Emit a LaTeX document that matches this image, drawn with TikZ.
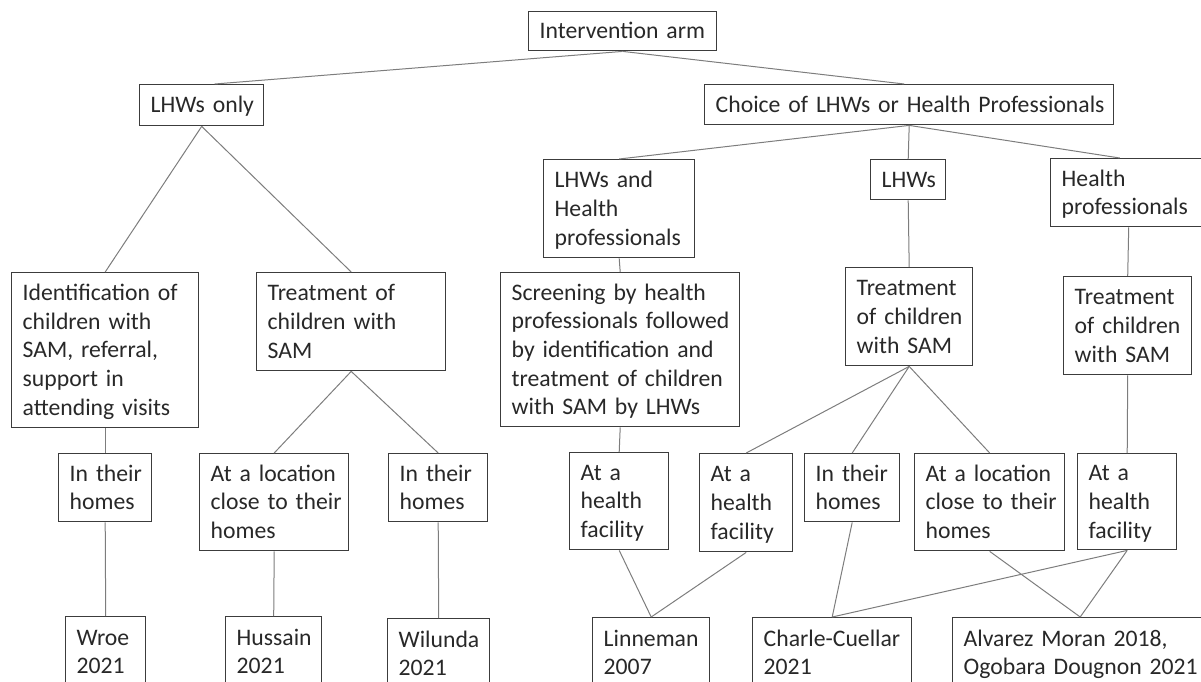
\documentclass[tikz,border=0pt]{standalone}
\usepackage{fontspec}
\setmainfont{Carlito}
\usetikzlibrary{calc}
\definecolor{boxgray}{RGB}{60,60,60}
\definecolor{linkgray}{RGB}{125,125,125}
\definecolor{textgray}{RGB}{40,40,40}
\newcommand\rows[1]{\begin{tabular}{@{}l@{}}\rule{0pt}{24pt}#1\end{tabular}}
\begin{document}
\begin{tikzpicture}[x=1pt,y=-1pt,
  box/.style={draw=boxgray, line width=1.4pt, anchor=north west, align=left,
    inner xsep=11pt, inner ysep=0pt, text=textgray,
    font=\fontsize{23.7pt}{28.6pt}\selectfont},
  wh/.code 2 args={\pgfmathsetmacro\boxtw{#1-22}\tikzset{text width=\boxtw pt, minimum width=#1pt, minimum height=#2pt}},
  link/.style={draw=linkgray, line width=1pt}]
\useasboundingbox (0,0) rectangle (1201,682);
\clip (0,0) rectangle (1201,682);
% level 1
\node[box, wh={188}{39}] (top) at (528,11) {\rows{Intervention arm}};
% level 2
\node[box, wh={124}{41}] (lonly) at (139,84) {\rows{LHWs only}};
\node[box, wh={409}{40}] (choice) at (704,84) {\rows{Choice of LHWs or Health Professionals}};
% level 3
\node[box, wh={151}{98}] (lhp) at (543,159) {\rows{LHWs and\\Health\\professionals}};
\node[box, wh={75}{40}] (lhws) at (870,159) {\rows{LHWs}};
\node[box, wh={156}{68}] (hp) at (1050,158) {\rows{Health\\professionals}};
% level 4
\node[box, wh={187}{155}] (ident) at (11,272) {\rows{Identification of\\children with\\SAM, referral,\\support in\\attending visits}};
\node[box, wh={189}{98}] (treatL) at (256,272) {\rows{Treatment of\\children with\\SAM}};
\node[box, wh={239}{154}] (screen) at (500,272) {\rows{Screening by health\\professionals followed\\by identification and\\treatment of children\\with SAM by LHWs}};
\node[box, wh={127}{98}] (treatM) at (845,267) {\rows{Treatment\\of children\\with SAM}};
\node[box, wh={128}{98}] (treatR) at (1063,276) {\rows{Treatment\\of children\\with SAM}};
% level 5
\node[box, wh={93}{68}] (home1) at (58,453) {\rows{In their\\homes}};
\node[box, wh={149}{97}] (loc1) at (199,453) {\rows{At a location\\close to their\\homes}};
\node[box, wh={99}{68}] (home2) at (388,453) {\rows{In their\\homes}};
\node[box, wh={99}{97}] (fac1) at (569,452) {\rows{At a\\health\\facility}};
\node[box, wh={93}{98}] (fac2) at (699,453) {\rows{At a\\health\\facility}};
\node[box, wh={95}{68}] (home3) at (804,453) {\rows{In their\\homes}};
\node[box, wh={150}{97}] (loc2) at (914,453) {\rows{At a location\\close to their\\homes}};
\node[box, wh={99}{96}] (fac3) at (1077,453) {\rows{At a\\health\\facility}};
% level 6 (studies)
\node[box, wh={80}{70}] (wroe) at (65,616) {\rows{Wroe\\2021}};
\node[box, wh={96}{70}] (hussain) at (225,616) {\rows{Hussain\\2021}};
\node[box, wh={102}{70}] (wilunda) at (387,618) {\rows{Wilunda\\2021}};
\node[box, wh={117}{70}] (linn) at (592,617) {\rows{Linneman\\2007}};
\node[box, wh={159}{70}] (charle) at (752,617) {\rows{Charle-Cuellar\\2021}};
\node[box, wh={255}{70}] (alvarez) at (952,617) {\rows{Alvarez Moran 2018,\\Ogobara Dougnon 2021}};
% connectors
\draw[link] (top.south) -- ($(lonly.north)+(13,0)$);
\draw[link] (top.south) -- ($(choice.north)+(-5,0)$);
\draw[link] (lonly.south) -- (ident.north);
\draw[link] (lonly.south) -- (treatL.north);
\draw[link] (choice.south) -- (lhp.north);
\draw[link] (choice.south) -- (lhws.north);
\draw[link] (choice.south) -- ($(hp.north)+(-9,0)$);
\draw[link] (lhp.south) -- (screen.north);
\draw[link] (lhws.south) -- (treatM.north);
\draw[link] (hp.south) -- (treatR.north);
\draw[link] (ident.south) -- (home1.north);
\draw[link] (treatL.south) -- (loc1.north);
\draw[link] (treatL.south) -- (home2.north);
\draw[link] (screen.south) -- (fac1.north);
\draw[link] (treatM.south) -- (fac2.north);
\draw[link] (treatM.south) -- (home3.north);
\draw[link] (treatM.south) -- (loc2.north);
\draw[link] (treatR.south) -- (fac3.north);
\draw[link] (home1.south) -- (wroe.north);
\draw[link] (loc1.south) -- (hussain.north);
\draw[link] (home2.south) -- (wilunda.north);
\draw[link] (fac1.south) -- (linn.north);
\draw[link] (fac2.south) -- (linn.north);
\draw[link] (home3.south) -- (charle.north);
\draw[link] (fac3.south) -- (charle.north);
\draw[link] (fac3.south) -- (alvarez.north);
\draw[link] (loc2.south) -- (alvarez.north);
\end{tikzpicture}
\end{document}
